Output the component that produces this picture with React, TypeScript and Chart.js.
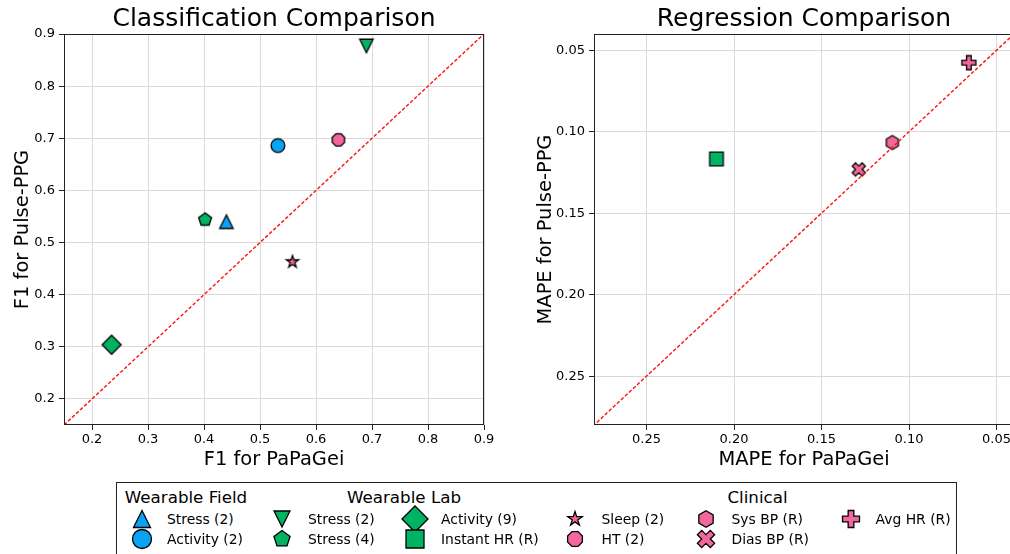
import React, { useEffect, useRef } from 'react';
import { Chart, registerables } from 'chart.js';

Chart.register(...registerables);

const FONT = "'DejaVu Sans', 'Liberation Sans', sans-serif";

// ---------- data ----------
const CLS_LABELS = ['Stress (2)', 'Activity (2)', 'Stress (2)', 'Stress (4)', 'Activity (9)', 'Sleep (2)', 'HT (2)'];
const CLS_PAPAGEI = [0.44, 0.532, 0.69, 0.402, 0.235, 0.558, 0.64];
const CLS_PULSE = [0.54, 0.686, 0.877, 0.544, 0.304, 0.463, 0.697];
const CLS_GROUP = ['field', 'field', 'lab', 'lab', 'lab', 'clinical', 'clinical'];

const REG_LABELS = ['Instant HR (R)', 'Sys BP (R)', 'Dias BP (R)', 'Avg HR (R)'];
const REG_PAPAGEI = [0.21, 0.1095, 0.1287, 0.0658];
const REG_PULSE = [0.1167, 0.1066, 0.1231, 0.0576];
const REG_GROUP = ['lab', 'clinical', 'clinical', 'clinical'];

const CLS_TICKS = [0.2, 0.3, 0.4, 0.5, 0.6, 0.7, 0.8, 0.9];
const REG_TICKS = [0.05, 0.1, 0.15, 0.2, 0.25];
const CLS_RANGE = [0.15, 0.9];
const REG_RANGE = [0.04, 0.28];

const GROUP_TITLES = ['Wearable Field', 'Wearable Lab', 'Clinical'];

// ---------- styles ----------
const COLORS: Record<string, string> = { field: '#0aa2f2', lab: '#00b362', clinical: '#f2679d' };
const CLS_SHAPES = ['triUp', 'circle', 'triDown', 'pentagon', 'diamond', 'star', 'octagon'];
const REG_SHAPES = ['square', 'hexagon', 'xFilled', 'plusFilled'];
const CHART_SIZE: Record<string, number> = {
  triUp: 13.5, circle: 13.8, triDown: 13.5, pentagon: 13.6, diamond: 13.4, star: 12.8,
  octagon: 13.4, square: 13.6, hexagon: 13.9, xFilled: 14, plusFilled: 14,
};
const LEGEND_SIZE: Record<string, number> = {
  triUp: 17, circle: 19, triDown: 16, pentagon: 17, diamond: 18.4, star: 15,
  octagon: 16, square: 18, hexagon: 16.5, xFilled: 18.3, plusFilled: 17,
};

function polygon(ctx: CanvasRenderingContext2D, pts: number[][]) {
  ctx.beginPath();
  pts.forEach((p, i) => (i === 0 ? ctx.moveTo(p[0], p[1]) : ctx.lineTo(p[0], p[1])));
  ctx.closePath();
}

function regular(n: number, r: number, start: number) {
  const pts: number[][] = [];
  for (let k = 0; k < n; k++) {
    const a = ((start + (k * 360) / n) * Math.PI) / 180;
    pts.push([r * Math.cos(a), r * Math.sin(a)]);
  }
  return pts;
}

const PLUS = [[-1, -3], [1, -3], [1, -1], [3, -1], [3, 1], [1, 1], [1, 3], [-1, 3], [-1, 1], [-3, 1], [-3, -1], [-1, -1]];

function drawShape(ctx: CanvasRenderingContext2D, shape: string, m: number, fill: string) {
  const h = m / 2;
  switch (shape) {
    case 'circle':
      ctx.beginPath();
      ctx.arc(0, 0, h, 0, Math.PI * 2);
      break;
    case 'triUp':
      polygon(ctx, [[0, -h], [-h, h], [h, h]]);
      break;
    case 'triDown':
      polygon(ctx, [[0, h], [-h, -h], [h, -h]]);
      break;
    case 'pentagon':
      polygon(ctx, regular(5, h, -90));
      break;
    case 'hexagon':
      polygon(ctx, regular(6, h, -90));
      break;
    case 'octagon':
      polygon(ctx, regular(8, h, -90 + 22.5));
      break;
    case 'diamond': {
      const d = m / Math.SQRT2;
      polygon(ctx, [[0, -d], [d, 0], [0, d], [-d, 0]]);
      break;
    }
    case 'square':
      polygon(ctx, [[-h, -h], [h, -h], [h, h], [-h, h]]);
      break;
    case 'star': {
      const pts: number[][] = [];
      for (let k = 0; k < 10; k++) {
        const r = k % 2 === 0 ? h : h * 0.381966;
        const a = ((-90 + k * 36) * Math.PI) / 180;
        pts.push([r * Math.cos(a), r * Math.sin(a)]);
      }
      polygon(ctx, pts);
      break;
    }
    case 'plusFilled':
      polygon(ctx, PLUS.map(([x, y]) => [(x * m) / 6, (y * m) / 6]));
      break;
    case 'xFilled': {
      const c = Math.SQRT1_2;
      polygon(ctx, PLUS.map(([x, y]) => [((x - y) * c * m) / 6, ((x + y) * c * m) / 6]));
      break;
    }
  }
  ctx.fillStyle = fill;
  ctx.fill();
  ctx.lineWidth = 1.3;
  ctx.lineJoin = 'miter';
  ctx.strokeStyle = '#000';
  ctx.stroke();
}

function makeMarker(shape: string, m: number, fill: string) {
  let size = Math.ceil(m * 1.6) + 4;
  if (size % 2) size += 1;
  const c = document.createElement('canvas');
  c.width = size;
  c.height = size;
  const ctx = c.getContext('2d')!;
  ctx.translate(size / 2, size / 2);
  drawShape(ctx, shape, m, fill);
  return c;
}

const framePlugin = {
  id: 'frame',
  afterDraw(chart: any) {
    const { ctx, chartArea } = chart;
    const l = Math.round(chartArea.left) + 0.5;
    const t = Math.round(chartArea.top) + 0.5;
    const r = Math.round(chartArea.right) - 0.5;
    const b = Math.round(chartArea.bottom) - 0.5;
    ctx.save();
    ctx.strokeStyle = '#222';
    ctx.lineWidth = 1;
    ctx.strokeRect(l, t, r - l, b - t);
    ctx.restore();
  },
};

interface Cfg {
  xs: number[];
  ys: number[];
  labels: string[];
  groups: string[];
  shapes: string[];
  range: number[];
  ticks: number[];
  decimals: number;
  reverse: boolean;
  xTitle: string;
  yTitle: string;
  yWidth: number;
  yTitlePad: number;
  rightPad: number;
}

function buildChart(canvas: HTMLCanvasElement, cfg: Cfg) {
  const [lo, hi] = cfg.range;
  const datasets: any[] = [
    {
      type: 'scatter',
      label: 'diag',
      data: [{ x: lo, y: lo }, { x: hi, y: hi }],
      showLine: true,
      borderColor: '#ff1010',
      borderWidth: 1.4,
      borderDash: [3.5, 2],
      pointRadius: 0,
      fill: false,
    },
  ];
  cfg.xs.forEach((x, i) => {
    datasets.push({
      label: cfg.labels[i],
      data: [{ x, y: cfg.ys[i] }],
      pointStyle: makeMarker(cfg.shapes[i], CHART_SIZE[cfg.shapes[i]], COLORS[cfg.groups[i]]),
      pointRadius: 7,
      pointHoverRadius: 7,
    });
  });
  const tickFont = { family: FONT, size: 13 };
  const titleFont = { family: FONT, size: 19.44 };
  const common = (isX: boolean) => ({
    type: 'linear',
    min: lo,
    max: hi,
    reverse: cfg.reverse,
    afterBuildTicks: (s: any) => {
      s.ticks = cfg.ticks.map((v) => ({ value: v }));
    },
    afterFit: (s: any) => {
      if (isX) s.height = 55;
      else s.width = cfg.yWidth;
    },
    ticks: {
      font: tickFont,
      color: '#000',
      padding: isX ? 2 : 4,
      autoSkip: false,
      maxRotation: 0,
      callback: (v: any) => Number(v).toFixed(cfg.decimals),
    },
    grid: { color: '#d9d9d9', lineWidth: 1, drawTicks: true, tickLength: 5, tickColor: '#222', tickWidth: 1 },
    border: { display: false },
    title: {
      display: true,
      text: isX ? cfg.xTitle : cfg.yTitle,
      font: titleFont,
      color: '#000',
      padding: isX ? { top: 0, bottom: 8.6 } : { top: cfg.yTitlePad, bottom: 0 },
    },
  });
  return new Chart(canvas, {
    type: 'scatter',
    data: { datasets },
    options: {
      animation: false,
      responsive: false,
      maintainAspectRatio: false,
      events: [],
      layout: { padding: { top: 34, right: cfg.rightPad, left: 0, bottom: 0 } },
      plugins: { legend: { display: false }, tooltip: { enabled: false }, title: { display: false } },
      scales: { x: common(true) as any, y: common(false) as any },
    },
    plugins: [framePlugin],
  } as any);
}

function MarkerIcon({ shape, color, cx, cy }: { shape: string; color: string; cx: number; cy: number }) {
  const ref = useRef<HTMLCanvasElement>(null);
  const S = 34;
  useEffect(() => {
    const c = ref.current!;
    const ctx = c.getContext('2d')!;
    ctx.clearRect(0, 0, S, S);
    ctx.save();
    ctx.translate(S / 2, S / 2);
    drawShape(ctx, shape, LEGEND_SIZE[shape], color);
    ctx.restore();
  }, [shape, color]);
  return <canvas ref={ref} width={S} height={S} style={{ position: 'absolute', left: cx - S / 2, top: cy - S / 2 }} />;
}

// legend layout
const COL_MARKER_X = [142.3, 282.3, 415, 575, 705.7, 851];
const COL_TEXT_X = [167, 308, 441, 601.5, 731.5, 875.5];
const ROW_Y = [518.5, 538.8];
const TITLE_CENTER_X = [186, 404, 757.5];

const LEGEND_ENTRIES = [
  { col: 0, row: 0, label: CLS_LABELS[0], shape: CLS_SHAPES[0], group: CLS_GROUP[0] },
  { col: 0, row: 1, label: CLS_LABELS[1], shape: CLS_SHAPES[1], group: CLS_GROUP[1] },
  { col: 1, row: 0, label: CLS_LABELS[2], shape: CLS_SHAPES[2], group: CLS_GROUP[2] },
  { col: 1, row: 1, label: CLS_LABELS[3], shape: CLS_SHAPES[3], group: CLS_GROUP[3] },
  { col: 2, row: 0, label: CLS_LABELS[4], shape: CLS_SHAPES[4], group: CLS_GROUP[4] },
  { col: 2, row: 1, label: REG_LABELS[0], shape: REG_SHAPES[0], group: REG_GROUP[0] },
  { col: 3, row: 0, label: CLS_LABELS[5], shape: CLS_SHAPES[5], group: CLS_GROUP[5] },
  { col: 3, row: 1, label: CLS_LABELS[6], shape: CLS_SHAPES[6], group: CLS_GROUP[6] },
  { col: 4, row: 0, label: REG_LABELS[1], shape: REG_SHAPES[1], group: REG_GROUP[1] },
  { col: 4, row: 1, label: REG_LABELS[2], shape: REG_SHAPES[2], group: REG_GROUP[2] },
  { col: 5, row: 0, label: REG_LABELS[3], shape: REG_SHAPES[3], group: REG_GROUP[3] },
];

export default function App() {
  const leftRef = useRef<HTMLCanvasElement>(null);
  const rightRef = useRef<HTMLCanvasElement>(null);

  useEffect(() => {
    const a = buildChart(leftRef.current!, {
      xs: CLS_PAPAGEI,
      ys: CLS_PULSE,
      labels: CLS_LABELS,
      groups: CLS_GROUP,
      shapes: CLS_SHAPES,
      range: CLS_RANGE,
      ticks: CLS_TICKS,
      decimals: 1,
      reverse: false,
      xTitle: 'F1 for PaPaGei',
      yTitle: 'F1 for Pulse-PPG',
      yWidth: 64,
      yTitlePad: 11,
      rightPad: 16,
    });
    const b = buildChart(rightRef.current!, {
      xs: REG_PAPAGEI,
      ys: REG_PULSE,
      labels: REG_LABELS,
      groups: REG_GROUP,
      shapes: REG_SHAPES,
      range: REG_RANGE,
      ticks: REG_TICKS,
      decimals: 2,
      reverse: true,
      xTitle: 'MAPE for PaPaGei',
      yTitle: 'MAPE for Pulse-PPG',
      yWidth: 89,
      yTitlePad: 29.3,
      rightPad: 11,
    });
    return () => {
      a.destroy();
      b.destroy();
    };
  }, []);

  return (
    <div
      style={{
        position: 'absolute',
        left: 0,
        top: 0,
        width: 1010,
        height: 554,
        overflow: 'hidden',
        background: '#fff',
        fontFamily: FONT,
        color: '#000',
      }}
    >
      <canvas ref={leftRef} width={500} height={480} style={{ position: 'absolute', left: 0, top: 0 }} />
      <canvas ref={rightRef} width={520} height={480} style={{ position: 'absolute', left: 505, top: 0 }} />
      <div style={{ position: 'absolute', left: 64, width: 420, top: 3, textAlign: 'center', fontSize: 25, lineHeight: '30px', whiteSpace: 'nowrap' }}>
        Classification Comparison
      </div>
      <div style={{ position: 'absolute', left: 594, width: 420, top: 3, textAlign: 'center', fontSize: 25, lineHeight: '30px', whiteSpace: 'nowrap' }}>
        Regression Comparison
      </div>
      <div
        style={{
          position: 'absolute',
          left: 116,
          top: 482,
          width: 841,
          height: 90,
          border: '1px solid #222',
          boxSizing: 'border-box',
        }}
      />
      {GROUP_TITLES.map((t, i) => (
        <div
          key={t}
          style={{
            position: 'absolute',
            left: TITLE_CENTER_X[i] - 100,
            width: 200,
            top: 485.6,
            textAlign: 'center',
            fontSize: 16.7,
            lineHeight: '22px',
            whiteSpace: 'nowrap',
          }}
        >
          {t}
        </div>
      ))}
      {LEGEND_ENTRIES.map((e, i) => (
        <React.Fragment key={i}>
          <MarkerIcon shape={e.shape} color={COLORS[e.group]} cx={COL_MARKER_X[e.col]} cy={ROW_Y[e.row]} />
          <div
            style={{
              position: 'absolute',
              left: COL_TEXT_X[e.col],
              top: ROW_Y[e.row] - 10,
              fontSize: 13.9,
              lineHeight: '20px',
              whiteSpace: 'nowrap',
            }}
          >
            {e.label}
          </div>
        </React.Fragment>
      ))}
    </div>
  );
}
